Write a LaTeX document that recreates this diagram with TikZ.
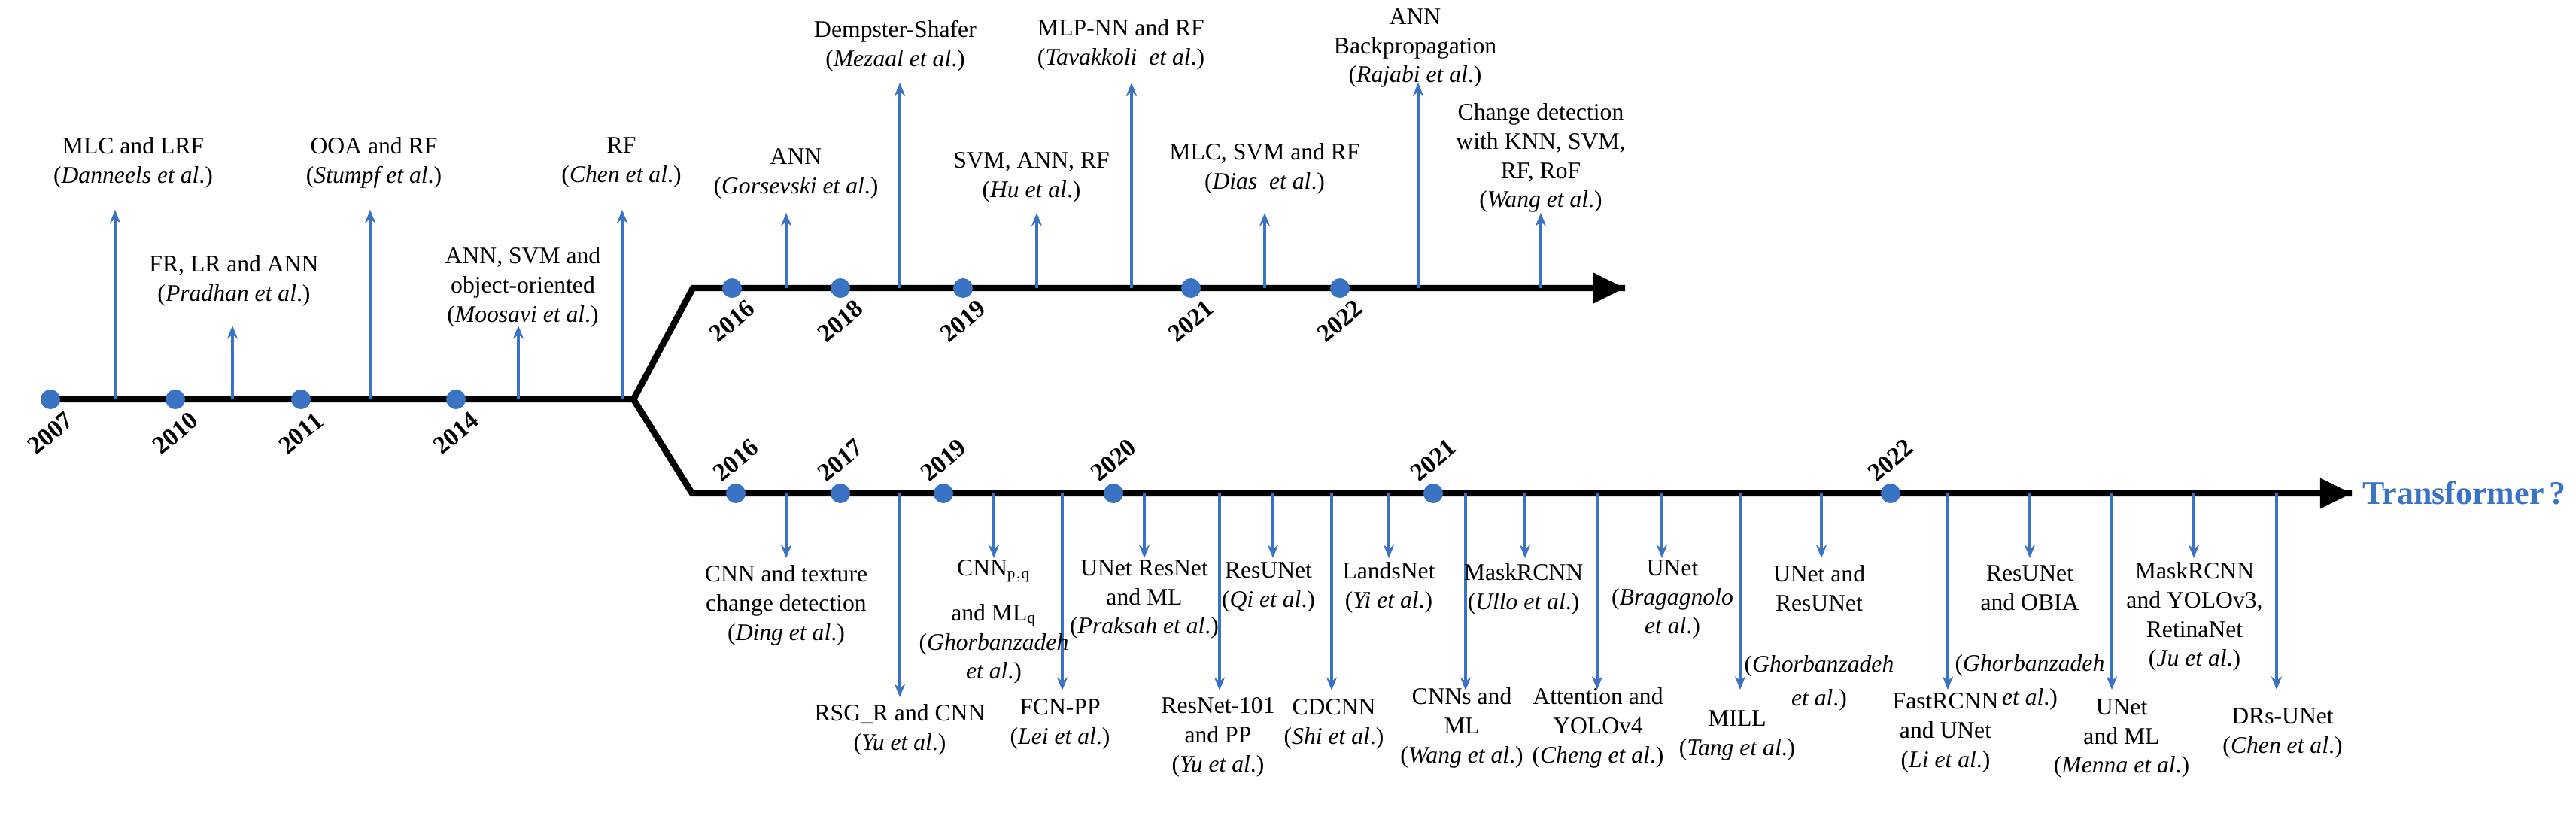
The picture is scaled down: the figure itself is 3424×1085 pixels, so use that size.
\documentclass[tikz,border=0pt]{standalone}
\usepackage{fontspec}
\setmainfont{Liberation Serif}
\usetikzlibrary{arrows.meta}
\definecolor{tblue}{HTML}{3A72C4}
\begin{document}
\begin{tikzpicture}[x=0.01cm,y=-0.01cm,
  main/.style={line width=2.4pt,black},
  arr/.style={tblue,line width=0.9pt,-{Stealth[length=5pt,width=4pt]}},
  dot/.style={circle,fill=tblue,inner sep=0pt,minimum size=0.26cm},
  lab/.style={align=center,inner sep=0pt,font=\fontsize{9}{11}\selectfont,anchor=north},
  yr/.style={font=\fontsize{9.5}{10}\selectfont\bfseries,rotate=40,inner sep=0pt}]
\useasboundingbox (0,0) rectangle (3424,1085);
\newcommand{\lab}[4]{\node[lab] (#1) at (#2,#3-16) {#4};}
\newcommand{\arw}[4]{\coordinate (#1b) at (#2,#3); \coordinate (#1t) at (#2,#4); \draw[arr] (#1b) -- (#1t);}
% ---- trunk
\coordinate (s) at (67,531);
\coordinate (br) at (842,531);
\coordinate (uc) at (921,383);
\coordinate (lc) at (920,656);
\coordinate (ue) at (2160,383);
\coordinate (le) at (3126,656);
\draw[main,line join=miter] (s) -- (br) -- (uc) -- (ue);
\draw[main,line join=miter] (br) -- (lc) -- (le);
\draw[-{Triangle[length=12pt,width=11pt]},line width=2.4pt] (2100,383) -- (ue);
\draw[-{Triangle[length=12pt,width=11pt]},line width=2.4pt] (3066,656) -- (le);
\node[anchor=west,text=tblue,font=\fontsize{12.5}{14}\selectfont\bfseries,inner sep=0pt] (tr) at (3140,655) {Transformer\,?};
% ---- left segment
\foreach \n/\x/\y in {a2007/67/2007,a2010/233/2010,a2011/400/2011,a2014/606/2014}{
  \node[dot] (\n) at (\x,531) {};
  \node[yr] (\n y) at (\x,576) {\y};}
\arw{l1}{153}{531}{279}
\arw{l2}{309}{531}{433}
\arw{l3}{492}{531}{279}
\arw{l4}{689}{531}{433}
\arw{l5}{827}{531}{279}
\lab{t1}{177}{198}{MLC and LRF\\(\textit{Danneels et al}.)}
\lab{t2}{311}{355}{FR, LR and ANN\\(\textit{Pradhan et al}.)}
\lab{t3}{497}{198}{OOA and RF\\(\textit{Stumpf et al}.)}
\lab{t4}{695}{344}{ANN, SVM and\\object-oriented\\(\textit{Moosavi et al}.)}
\lab{t5}{826}{198}{RF\\(\textit{Chen et al}.)}
% ---- upper branch
\foreach \n/\x/\y in {u2016/973/2016,u2018/1117/2018,u2019/1280/2019,u2021/1583/2021,u2022/1781/2022}{
  \node[dot] (\n) at (\x,383) {};
  \node[yr] (\n y) at (\x,427) {\y};}
\arw{u1}{1045}{383}{283}
\arw{u2}{1196}{383}{110}
\arw{u3}{1378}{383}{283}
\arw{u4}{1504}{383}{110}
\arw{u5}{1681}{383}{283}
\arw{u6}{1885}{383}{110}
\arw{u7}{2048}{383}{283}
\lab{v1}{1058}{213}{ANN\\(\textit{Gorsevski et al}.)}
\lab{v2}{1190}{43}{Dempster-Shafer\\(\textit{Mezaal et al}.)}
\lab{v3}{1371}{218}{SVM, ANN, RF\\(\textit{Hu et al}.)}
\lab{v4}{1490}{41}{MLP-NN and RF\\(\textit{Tavakkoli\ \ et al}.)}
\lab{v5}{1681}{206}{MLC, SVM and RF\\(\textit{Dias\ \ et al}.)}
\lab{v6}{1881}{27}{ANN\\Backpropagation\\(\textit{Rajabi et al}.)}
\lab{v7}{2048}{153}{Change detection\\with KNN, SVM,\\RF, RoF\\(\textit{Wang et al}.)}
% ---- lower branch
\foreach \n/\x/\y in {d2016/978/2016,d2017/1117/2017,d2019/1254/2019,d2020/1480/2020,d2021/1905/2021,d2022/2513/2022}{
  \node[dot] (\n) at (\x,656) {};
  \node[yr] (\n y) at (\x,612) {\y};}
\arw{d1}{1045}{656}{742}
\arw{d2}{1196}{656}{927}
\arw{d3}{1321}{656}{742}
\arw{d4}{1412}{656}{918}
\arw{d5}{1521}{656}{742}
\arw{d6}{1621}{656}{918}
\arw{d7}{1692}{656}{742}
\arw{d8}{1770}{656}{918}
\arw{d9}{1846}{656}{742}
\arw{d10}{1948}{656}{918}
\arw{d11}{2027}{656}{742}
\arw{d12}{2123}{656}{917}
\arw{d13}{2209}{656}{742}
\arw{d14}{2313}{656}{917}
\arw{d15}{2421}{656}{742}
\arw{d16}{2589}{656}{917}
\arw{d17}{2698}{656}{742}
\arw{d18}{2807}{656}{917}
\arw{d19}{2916}{656}{742}
\arw{d20}{3026}{656}{917}
% upper-row labels under the lower line
\lab{b1}{1045}{767}{CNN and texture\\change detection\\(\textit{Ding et al}.)}
\lab{b3}{1321}{760}{CNN$_{\mathrm{p,q}}$\\[6pt]and ML$_{\mathrm{q}}$\\(\textit{Ghorbanzadeh}\\\textit{et al}.)}
\lab{b5}{1521}{760}{UNet ResNet\\and ML\\(\textit{Praksah et al}.)}
\lab{b7}{1686}{763}{ResUNet\\(\textit{Qi et al}.)}
\lab{b9}{1846}{763}{LandsNet\\(\textit{Yi et al}.)}
\lab{b11}{2025}{765}{MaskRCNN\\(\textit{Ullo et al}.)}
\lab{b13}{2223}{760}{UNet\\(\textit{Bragagnolo}\\\textit{et al}.)}
\lab{b15}{2418}{767}{UNet and\\ResUNet\\[12pt](\textit{Ghorbanzadeh}\\[2pt]\textit{et al}.)}
\lab{b17}{2698}{767}{ResUNet\\and OBIA\\[12pt](\textit{Ghorbanzadeh}\\[2pt]\textit{et al}.)}
\lab{b19}{2917}{763}{MaskRCNN\\and YOLOv3,\\RetinaNet\\(\textit{Ju et al}.)}
% lower-row labels
\lab{b2}{1196}{952}{RSG\_R and CNN\\(\textit{Yu et al}.)}
\lab{b4}{1409}{945}{FCN-PP\\(\textit{Lei et al}.)}
\lab{b6}{1619}{943}{ResNet-101\\and PP\\(\textit{Yu et al}.)}
\lab{b8}{1773}{945}{CDCNN\\(\textit{Shi et al}.)}
\lab{b10}{1943}{930}{CNNs and\\ML\\(\textit{Wang et al}.)}
\lab{b12}{2124}{930}{Attention and\\YOLOv4\\(\textit{Cheng et al}.)}
\lab{b14}{2309}{960}{MILL\\(\textit{Tang et al}.)}
\lab{b16}{2586}{937}{FastRCNN\\and UNet\\(\textit{Li et al}.)}
\lab{b18}{2820}{945}{UNet\\and ML\\(\textit{Menna et al}.)}
\lab{b20}{3034}{957}{DRs-UNet\\(\textit{Chen et al}.)}
\end{tikzpicture}
\end{document}
